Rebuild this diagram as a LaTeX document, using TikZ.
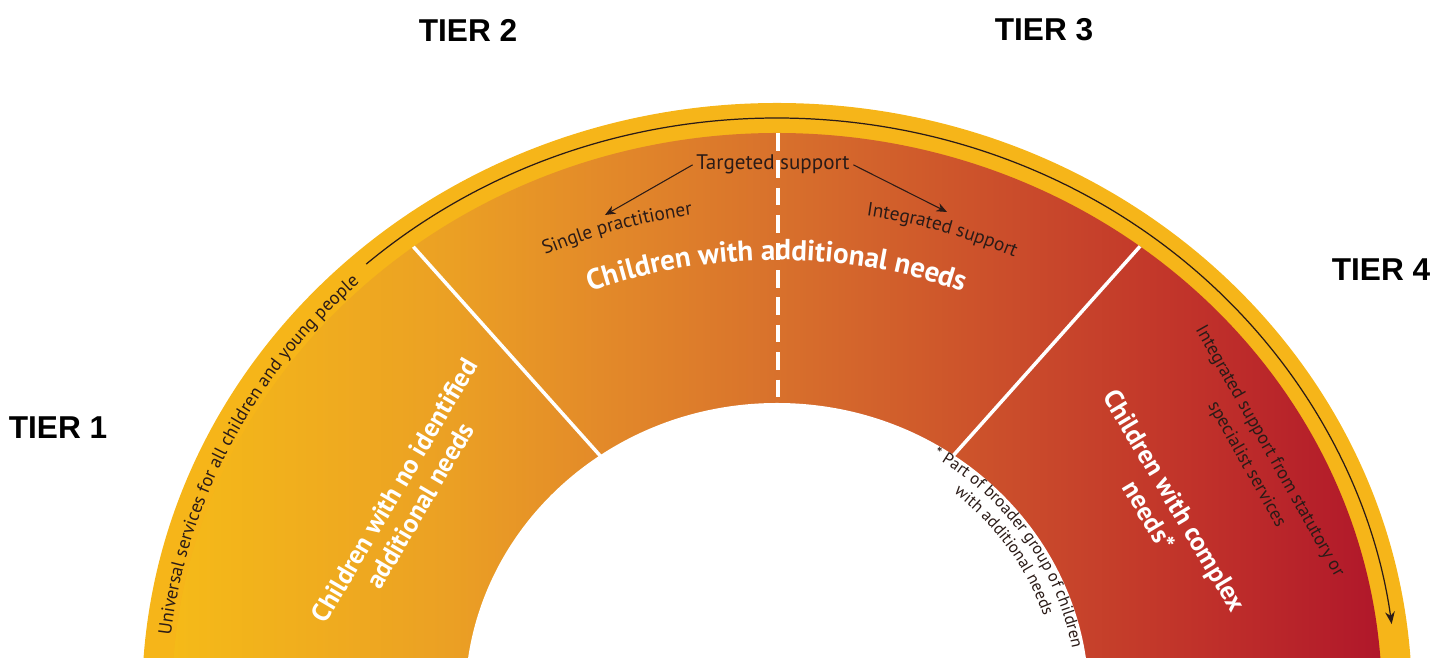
\documentclass[tikz,border=0pt]{standalone}
\usepackage{fontspec}
\setmainfont{PT Sans}
\newfontfamily\tierfont{Liberation Sans}
\usetikzlibrary{decorations.text,arrows.meta}

\definecolor{ring}{HTML}{F6B519}
\definecolor{ink}{HTML}{2B1B17}
\definecolor{bandA}{HTML}{F5BA18}
\definecolor{bandB}{HTML}{EBA024}
\definecolor{bandC}{HTML}{E38A29}
\definecolor{bandD}{HTML}{D8712C}
\definecolor{bandE}{HTML}{CB4E2B}
\definecolor{bandF}{HTML}{C0312A}
\definecolor{bandG}{HTML}{B0172A}

% left-to-right colour ramp of the band; 25bp and 75bp are the edges of the filled box
\pgfdeclarehorizontalshading{tierramp}{100bp}{%
  color(0bp)=(bandA); color(25bp)=(bandA); color(36.5bp)=(bandB);
  color(42.7bp)=(bandC); color(50bp)=(bandD); color(59.3bp)=(bandE);
  color(67.5bp)=(bandF); color(75bp)=(bandG); color(100bp)=(bandG)}

\begin{document}
\begin{tikzpicture}[x=0.02cm,y=0.02cm,
  tier/.style={font=\tierfont\bfseries\fontsize{18}{21}\selectfont, text=black, inner sep=0pt},
  divider/.style={draw=white, line width=2pt},
  guide/.style={draw=ink, line width=0.7pt},
  pointer/.style={draw=ink, line width=0.6pt, -{Stealth[length=6pt,width=5pt]}},
  groupname/.style={text=white, font=\bfseries\fontsize{15}{17}\selectfont, align=center, inner sep=0pt},
  service/.style={text=ink, font=\fontsize{10.5}{15}\selectfont, align=center, inner sep=0pt},
  label/.style={text=ink, font=\fontsize{12}{14}\selectfont, inner sep=2pt},
]
\useasboundingbox (0,0) rectangle (1447,658);
\clip (0,0) rectangle (1447,658);

\coordinate (O) at (777,-42);

% outer yellow ring
\fill[ring] (O) ellipse [x radius=635, y radius=597];

% graded band with the tier boundaries
\begin{scope}
  \clip (O) ellipse [x radius=605, y radius=567];
  \shade[shading=tierramp] (172,0) rectangle (1382,560);
  \draw[divider] (391.5,435.7) -- (613.5,187.3);
  \draw[divider] (1161.3,435.5) -- (941.7,189.5);
\end{scope}

% inner space
\fill[white] (O) ellipse [x radius=312, y radius=297];

% split between tiers 2 and 3
\draw[white, line width=2pt, dash pattern=on 10pt off 5.6pt] (778,525) -- (778,255);

% universal services line running round the ring
\path[decorate, decoration={text along path, text align=center,
  text={|\fontsize{10.5}{12}\selectfont\color{ink}|Universal services for all children and young people}}]
  (O) ++(180:610 and 572) arc[start angle=180, end angle=127, x radius=610, y radius=572];
\draw[guide, -{Stealth[length=7pt,width=5.5pt]}]
  (O) ++(131.5:620 and 582) arc[start angle=131.5, end angle=7.5, x radius=620, y radius=582];

% tier 2 and 3 heading
\path[decorate, decoration={text along path, text align=center,
  text={|\bfseries\fontsize{16.5}{19}\selectfont\color{white}|Children with additional needs}}]
  (777,-168) ++(140:566) arc[start angle=140, end angle=40, radius=566];

\node[label, anchor=base] (tgt) at (773,488) {Targeted support};
\coordinate (sp) at (605,443);
\coordinate (ip) at (947,446);
\draw[pointer] (tgt.west) -- (sp);
\draw[pointer] (tgt.east) -- (ip);

\path[decorate, decoration={text along path, text align=center,
  text={|\fontsize{11}{13}\selectfont\color{ink}|Single practitioner}}]
  (777,-159.5) ++(125.2:608.5) arc[start angle=125.2, end angle=85.2, radius=608.5];
\path[decorate, decoration={text along path, text align=center,
  text={|\fontsize{11}{13}\selectfont\color{ink}|Integrated support}}]
  (777,-159.5) ++(94.3:608.5) arc[start angle=94.3, end angle=54.3, radius=608.5];

% tier 1
\node[groupname, rotate=59.5] (g1) at (407,160) {Children with no identified\\additional needs};

% tier 4
\node[groupname, rotate=-59.2] (g4) at (1162,150) {Children with complex\\needs*};
\node[service, rotate=-60.6] (s4) at (1258,200) {Integrated support from statutory or\\specialist services};

% footnote round the inner edge
\path[decorate, decoration={text along path, text align=center,
  text={|\fontsize{9.5}{11}\selectfont\color{ink}|* Part of broader group of children}}]
  (O) ++(64:300 and 285) arc[start angle=64, end angle=5, x radius=300, y radius=285];
\path[decorate, decoration={text along path, text align=center,
  text={|\fontsize{9.5}{11}\selectfont\color{ink}|with additional needs}}]
  (O) ++(64:281 and 266) arc[start angle=64, end angle=5, x radius=281, y radius=266];

% tier labels
\node[tier] (t1) at (58,230) {TIER 1};
\node[tier] (t2) at (468,628) {TIER 2};
\node[tier] (t3) at (1044,628) {TIER 3};
\node[tier] (t4) at (1381,388) {TIER 4};
\end{tikzpicture}
\end{document}
